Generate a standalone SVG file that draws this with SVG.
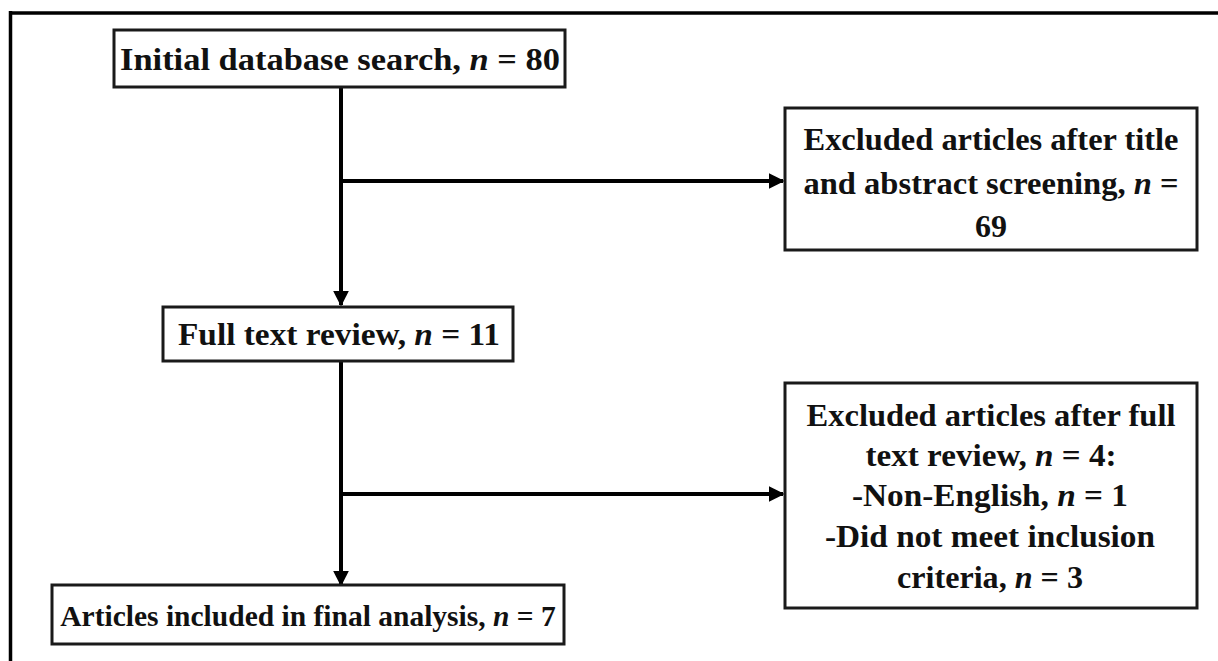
<svg xmlns="http://www.w3.org/2000/svg" width="1218" height="661" viewBox="0 0 1218 661">
  <style>
    .box { fill: #ffffff; stroke: #1a1a1a; stroke-width: 3; }
    .t { font-family: "Liberation Serif", "Times New Roman", serif; font-weight: bold; font-size: 32px; fill: #111; text-anchor: middle; }
    .s { font-size: 29.5px; }
    .i { font-style: italic; }
    .ln { stroke: #000; stroke-width: 4; fill: none; }
    .frame { stroke: #000; stroke-width: 3.5; fill: none; }
  </style>
  <defs>
    <marker id="ah" viewBox="0 0 10 10" refX="9" refY="5" markerWidth="4" markerHeight="4" orient="auto" markerUnits="strokeWidth">
      <path d="M0,0 L10,5 L0,10 Z" fill="#000"/>
    </marker>
  </defs>
  <rect width="1218" height="661" fill="#ffffff"/>
  <g id="frame">
    <line class="frame" x1="9" y1="13" x2="1218" y2="13"/>
    <line class="frame" x1="10.5" y1="11" x2="10.5" y2="661"/>
  </g>
  <g id="connectors">
    <line class="ln" x1="341" y1="87" x2="341" y2="305" marker-end="url(#ah)"/>
    <line class="ln" x1="341" y1="181" x2="783" y2="181" marker-end="url(#ah)"/>
    <line class="ln" x1="341" y1="361" x2="341" y2="585" marker-end="url(#ah)"/>
    <line class="ln" x1="341" y1="494" x2="783" y2="494" marker-end="url(#ah)"/>
  </g>
  <g id="n1">
    <rect class="box" x="114" y="30" width="451" height="57"/>
    <text class="t" x="340" y="70" textLength="440" lengthAdjust="spacingAndGlyphs">Initial database search, <tspan class="i">n</tspan> = 80</text>
  </g>
  <g id="n2">
    <rect class="box" x="785" y="108" width="412" height="142"/>
    <text class="t" x="991" y="150" textLength="375" lengthAdjust="spacingAndGlyphs">Excluded articles after title</text>
    <text class="t" x="991" y="194" textLength="375" lengthAdjust="spacingAndGlyphs">and abstract screening, <tspan class="i">n</tspan> =</text>
    <text class="t" x="991" y="237">69</text>
  </g>
  <g id="n3">
    <rect class="box" x="163" y="307" width="350" height="54"/>
    <text class="t" x="339" y="345" textLength="322" lengthAdjust="spacingAndGlyphs">Full text review, <tspan class="i">n</tspan> = 11</text>
  </g>
  <g id="n4">
    <rect class="box" x="785" y="383" width="412" height="225"/>
    <text class="t" x="991" y="426" textLength="369" lengthAdjust="spacingAndGlyphs">Excluded articles after full</text>
    <text class="t" x="991" y="466" textLength="251" lengthAdjust="spacingAndGlyphs">text review, <tspan class="i">n</tspan> = 4:</text>
    <text class="t" x="990" y="506" textLength="276" lengthAdjust="spacingAndGlyphs">-Non-English, <tspan class="i">n</tspan> = 1</text>
    <text class="t" x="990" y="547" textLength="330" lengthAdjust="spacingAndGlyphs">-Did not meet inclusion</text>
    <text class="t" x="990" y="588" textLength="186" lengthAdjust="spacingAndGlyphs">criteria, <tspan class="i">n</tspan> = 3</text>
  </g>
  <g id="n5">
    <rect class="box" x="52" y="585" width="512" height="59"/>
    <text class="t s" x="308" y="626">Articles included in final analysis, <tspan class="i">n</tspan> = 7</text>
  </g>
</svg>
